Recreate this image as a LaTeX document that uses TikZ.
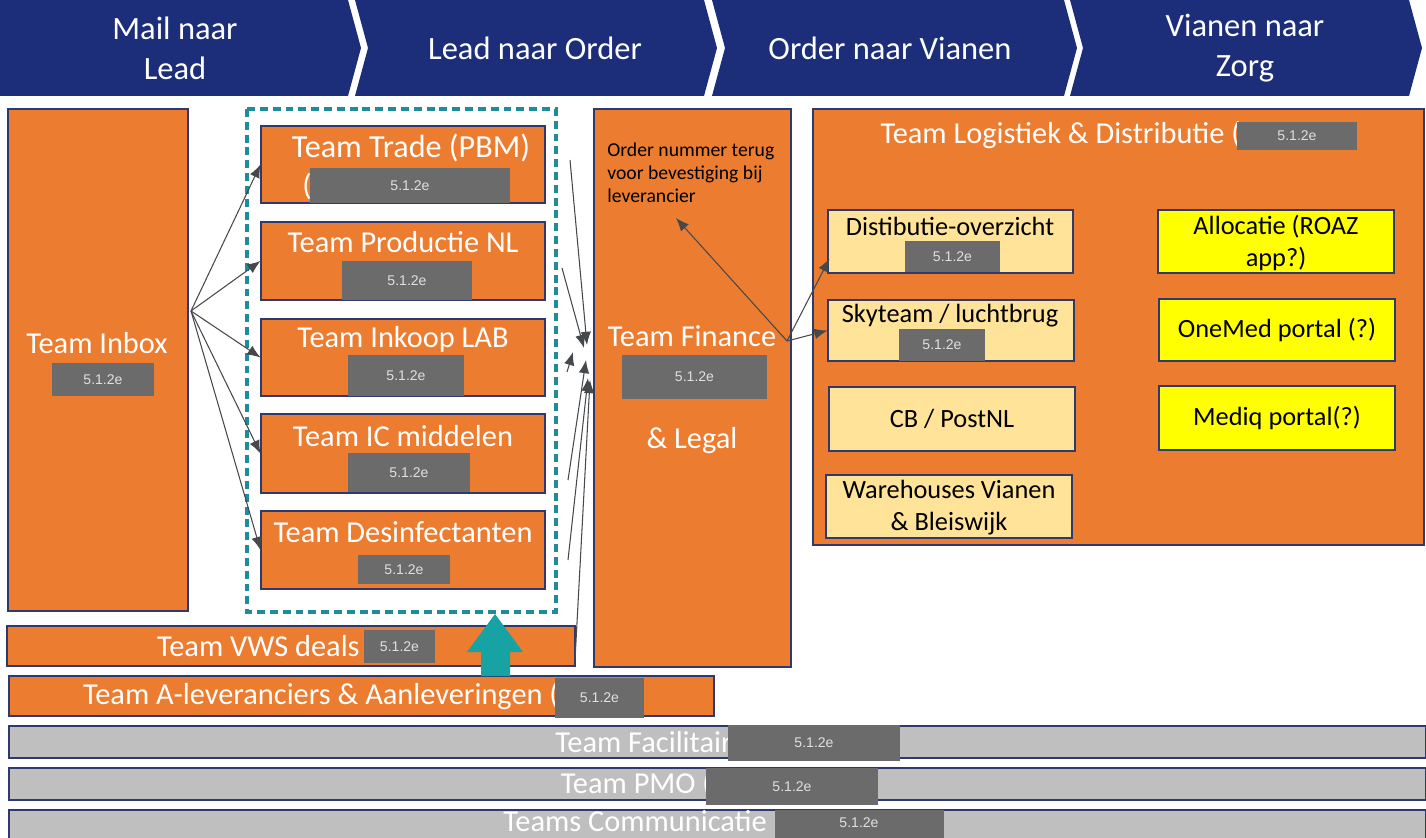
\documentclass[tikz,border=0pt]{standalone}
\usepackage{fontspec}
\setmainfont{Carlito}
\newfontfamily\maskfont{Liberation Sans}
\usetikzlibrary{arrows,arrows.meta,calc,fit,positioning}

\definecolor{hdrblue}{HTML}{1C2E7A}
\definecolor{teamorange}{HTML}{EC7C30}
\definecolor{edgeblue}{HTML}{2E3A6E}
\definecolor{maskgray}{HTML}{6B6B6B}
\definecolor{lightyel}{HTML}{FFE399}
\definecolor{brightyel}{HTML}{FFFF00}
\definecolor{bargray}{HTML}{BFBFBF}
\definecolor{dashteal}{HTML}{1E8C9B}
\definecolor{arrowteal}{HTML}{17A3A3}
\definecolor{arrowgray}{HTML}{45484C}

\begin{document}
\begin{tikzpicture}[x=0.02cm,y=-0.02cm,
    box/.style={draw=edgeblue, line width=0.6pt, inner sep=0pt},
    team/.style={box, fill=teamorange},
    sub/.style={box, fill=lightyel},
    portal/.style={box, fill=brightyel},
    bar/.style={box, fill=bargray},
    mask/.style={fill=maskgray, inner sep=0pt},
    idtxt/.style={text=white!88!black, inner sep=0pt, font=\maskfont\fontsize{8}{9}\selectfont},
    hdr/.style={text=white, align=center, font=\fontsize{18.5}{22.7}\selectfont},
    wt/.style={text=white, inner sep=0pt, font=\fontsize{17.3}{20}\selectfont},
    bt/.style={text=black, inner sep=0pt, align=center, font=\fontsize{15}{18.3}\selectfont},
    lnk/.style={draw=arrowgray, line width=0.6pt, -{Latex[length=7.5pt,width=6pt]}}]
      \def\W{1426}
      \def\H{838}
      \def\d{13}
      \useasboundingbox (0,0) rectangle (\W,\H);

      % header
      \fill[hdrblue] (0,0) -- (348,0) -- (348+\d,48) -- (348,96) -- (0,96) -- cycle;
      \foreach \l/\r in {355/704, 712/1064, 1070/1409}
        \fill[hdrblue] (\l,0) -- (\r,0) -- (\r+\d,48) -- (\r,96) -- (\l,96) -- (\l+\d,48) -- cycle;
      \node[hdr] (h1) at (175,48) {Mail naar\\Lead};
      \node[hdr] (h2) at (535,48) {Lead naar Order};
      \node[hdr] (h3) at (890,48) {Order naar Vianen};
      \node[hdr] (h4) at (1245,48) {Vianen naar\\Zorg};

      % inbox
      \node[team, fit={(8,109)(188,611)}] (inbox) {};
      \node[wt] (inboxtxt) at (97,343) {Team Inbox};
      \node[mask, fit={(52,363)(154,396)}] (inboxid) {};
      \node[idtxt] at (inboxid) {5.1.2e};

      % lead naar order teams
      \draw[dashteal, line width=1.8pt, dash pattern=on 4.5pt off 2.8pt] (247,109) rectangle (556,612);
      \node[team, fit={(261,126)(545,203)}] (trade) {};
      \node[team, fit={(261,222)(545,300)}] (prod) {};
      \node[team, fit={(261,319)(545,396)}] (inkoop) {};
      \node[team, fit={(261,414)(545,493)}] (ic) {};
      \node[team, fit={(261,511)(545,589)}] (desinf) {};
      \node[wt, font=\fontsize{18.3}{20}\selectfont] (tradetxt) at (411,148) {Team Trade (PBM)};
      \node[wt] (tradepar) at (307,186) {(};
      \node[wt] (prodtxt) at (403,242) {Team Productie NL};
      \node[wt] (inkooptxt) at (403,339) {Team Inkoop LAB};
      \node[wt] (ictxt) at (403,436) {Team IC middelen};
      \node[wt] (desinftxt) at (403,532) {Team Desinfectanten};
      \node[mask, fit={(310,168)(510,203)}] (tradeid) {};
      \node[mask, fit={(342,261)(472,300)}] (prodid) {};
      \node[mask, fit={(348,355)(464,396)}] (inkoopid) {};
      \node[mask, fit={(348,453)(470,492)}] (icid) {};
      \node[mask, fit={(358,555)(450,584)}] (desinfid) {};
      \foreach \t in {tradeid,prodid,inkoopid,icid,desinfid}
        \node[idtxt] at (\t) {5.1.2e};

      % finance
      \node[team, fit={(594,109)(791,667)}] (fin) {};
      \node[anchor=north west, inner sep=0pt, align=left, font=\fontsize{11.2}{13.2}\selectfont] (ordertxt) at (607,142)
        {Order nummer terug\\voor bevestiging bij\\leverancier};
      \node[wt] (fintxt) at (692,336) {Team Finance};
      \node[mask, fit={(622,355)(767,399)}] (finid) {};
      \node[idtxt] at (finid) {5.1.2e};
      \node[wt] (legaltxt) at (692,441) {\& Legal};

      % logistiek
      \node[team, fit={(813,109)(1424,545)}] (logi) {};
      \node[wt, anchor=east] (logitxt) at (1241,135) {Team Logistiek \& Distributie (};
      \node[mask, fit={(1237,122)(1357,150)}] (logiid) {};
      \node[sub, fit={(828,210)(1073,273)}] (dist) {};
      \node[sub, fit={(828,300)(1074,361)}] (sky) {};
      \node[sub, fit={(829,387)(1075,451)}] (cb) {};
      \node[sub, fit={(826,475)(1072,538)}] (wh) {};
      \node[bt] (disttxt) at (950,226) {Distibutie-overzicht};
      \node[bt] (skytxt) at (950,316) {Skyteam / luchtbrug};
      \node[bt] (cbtxt) at (cb.center) {CB / PostNL};
      \node[bt] (whtxt) at (949,508) {Warehouses Vianen\\\& Bleiswijk};
      \node[mask, fit={(905,241)(1000,272)}] (distid) {};
      \node[mask, fit={(899,329)(985,361)}] (skyid) {};
      \foreach \t in {logiid,distid,skyid}
        \node[idtxt] at (\t) {5.1.2e};
      \node[portal, fit={(1158,210)(1394,273)}] (alloc) {};
      \node[portal, fit={(1159,299)(1395,361)}] (onemed) {};
      \node[portal, fit={(1159,386)(1395,450)}] (mediq) {};
      \node[bt] (alloctxt) at (1276,243) {Allocatie (ROAZ\\app?)};
      \node[bt] (onemedtxt) at (onemed.center) {OneMed portal (?)};
      \node[bt] (mediqtxt) at (mediq.center) {Mediq portal(?)};

      % lower bars
      \node[team, fit={(7,626)(575,666)}] (vws) {};
      \node[wt, anchor=east] (vwstxt) at (360,646) {Team VWS deals};
      \node[mask, fit={(364,630)(435,663)}] (vwsid) {};
      \node[team, fit={(9,676)(714,716)}] (alev) {};
      \node[wt, anchor=east] (alevtxt) at (559,696) {Team A-leveranciers \& Aanleveringen (};
      \node[mask, fit={(555,678)(644,718)}] (alevid) {};
      \foreach \t in {vwsid,alevid}
        \node[idtxt] at (\t) {5.1.2e};
      \fill[arrowteal] (481,676) -- (481,652) -- (467,652) -- (495,614) -- (523,652) -- (510,652) -- (510,676) -- cycle;

      \node[bar, fit={(9,726)(1426,758)}] (faci) {};
      \node[bar, fit={(9,768)(1426,800)}] (pmo) {};
      \node[bar, fit={(9,810)(1426,845)}] (comm) {};
      \node[wt, anchor=east] (facitxt) at (732,742) {Team Facilitair};
      \node[wt, anchor=east] (pmotxt) at (712,784) {Team PMO (};
      \node[wt] (commtxt) at (635,821) {Teams Communicatie};
      \node[mask, fit={(728,725)(900,761)}] (faciid) {};
      \node[mask, fit={(706,768)(878,805)}] (pmoid) {};
      \node[mask, fit={(775,810)(944,840)}] (commid) {};
      \node[idtxt] at (faciid) {5.1.2e};
      \node[idtxt] at (pmoid) {5.1.2e};
      \node[idtxt] at (859,823) {5.1.2e};

      % connectors
      \coordinate (fan) at (191,311);
      \foreach \t in {trade,prod,inkoop,ic,desinf}
        \draw[lnk] (fan) -- (\t.west);
      \coordinate (s1) at (570,160);
      \coordinate (s2) at (562,268);
      \coordinate (s3) at (567,372);
      \coordinate (s4) at (568,480);
      \coordinate (s5) at (568,560);
      \coordinate (s6) at (575,660);
      \coordinate (e1) at (587,345);
      \coordinate (e2) at (584,348);
      \coordinate (e3) at (573,352);
      \coordinate (e4) at (586,360);
      \coordinate (e5) at (588,378);
      \coordinate (e6) at (590,380);
      \foreach \i in {1,...,6}
        \draw[lnk] (s\i) -- (e\i);
      \coordinate (fout) at (787,341);
      \coordinate (ordertip) at (676,218);
      \draw[lnk] (fout) -- (ordertip);
      \draw[lnk] (fout) -- ($(dist.south west)+(2,-15)$);
      \draw[lnk] (fout) -- (sky.west);
\end{tikzpicture}
\end{document}
